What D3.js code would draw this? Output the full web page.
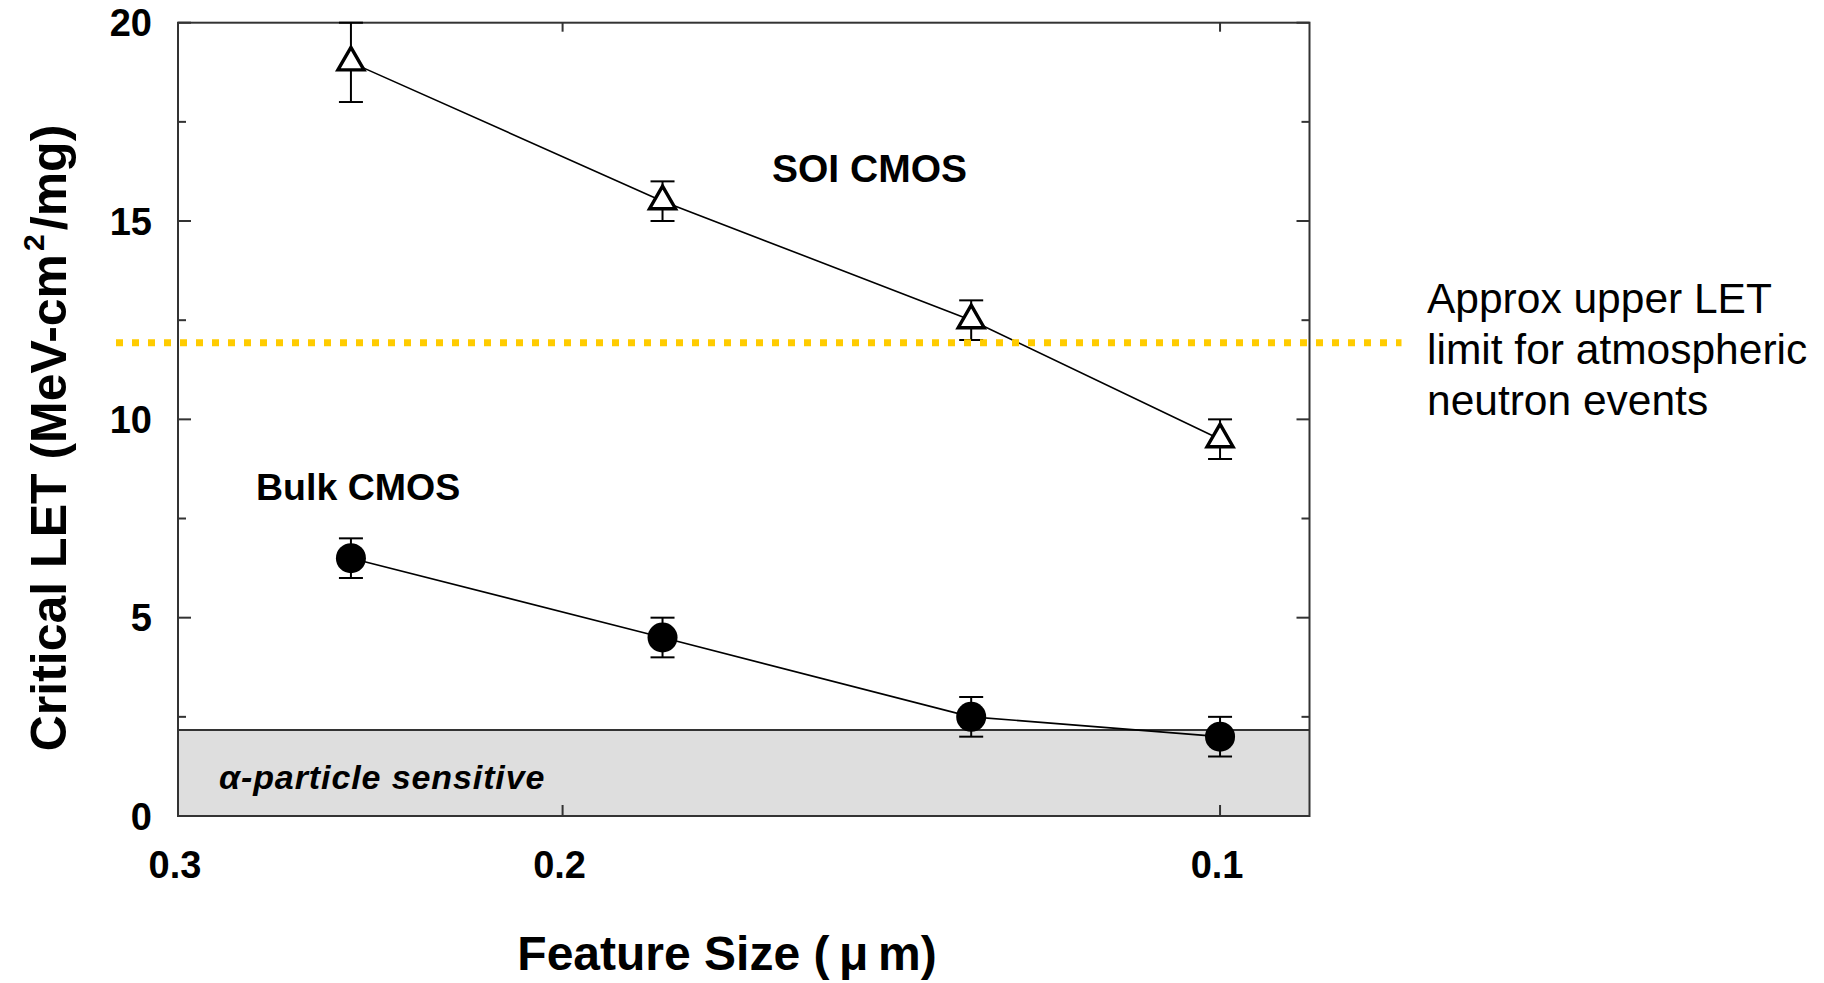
<!DOCTYPE html>
<html>
<head>
<meta charset="utf-8">
<script src="https://cdn.jsdelivr.net/npm/d3@7"></script>
<style>
  html, body { margin: 0; padding: 0; background: #fff; }
  svg { display: block; }
  text { font-family: "Liberation Sans", Arial, Helvetica, sans-serif; fill: #000; }
</style>
</head>
<body>
<svg id="chart" width="1824" height="983"></svg>
<script>
// Critical LET vs. feature size for SOI and bulk CMOS
const featureSize = [0.25, 0.18, 0.13, 0.10];

const soiLET     = [19, 15.5, 12.5, 9.5];
const soiErrLow  = [18, 15, 12, 9];
const soiErrHigh = [20, 16, 13, 10];

const bulkLET     = [6.5, 4.5, 2.5, 2.0];
const bulkErrLow  = [6.0, 4.0, 2.0, 1.5];
const bulkErrHigh = [7.0, 5.0, 3.0, 2.5];

const xTickValues = [0.3, 0.2, 0.1];
const xTickLabels = ["0.3", "0.2", "0.1"];
const yMajorTicks = [0, 5, 10, 15, 20];
const yMinorTicks = [2.5, 7.5, 12.5, 17.5];

const alphaLimit = 2.17;     // top of the alpha-particle sensitive band
const neutronLimit = 11.93;  // approx upper LET for atmospheric neutron events

const svg = d3.select("#chart");

const x = d3.scaleLog().domain([0.3, 0.091]).range([178, 1309.5]);
const y = d3.scaleLinear().domain([0, 20]).range([816, 22.7]);

const [x0, x1] = x.range();
const [y0, y1] = y.range();

// alpha-particle band
svg.append("rect")
  .attr("x", x0).attr("y", y(alphaLimit))
  .attr("width", x1 - x0).attr("height", y(0) - y(alphaLimit))
  .attr("fill", "#dedede");
svg.append("line")
  .attr("x1", x0).attr("x2", x1)
  .attr("y1", y(alphaLimit)).attr("y2", y(alphaLimit))
  .attr("stroke", "#333").attr("stroke-width", 2);

svg.append("text")
  .attr("x", 219).attr("y", y(0) - 27)
  .attr("font-size", 34).attr("font-weight", "bold").attr("font-style", "italic")
  .attr("letter-spacing", 0.9)
  .text("α-particle sensitive");

// frame
svg.append("rect")
  .attr("x", x0).attr("y", y1)
  .attr("width", x1 - x0).attr("height", y0 - y1)
  .attr("fill", "none").attr("stroke", "#333").attr("stroke-width", 2);

// y ticks (inward on both sides)
const tickG = svg.append("g").attr("stroke", "#333").attr("stroke-width", 2);
yMajorTicks.concat(yMinorTicks).forEach(v => {
  const len = yMajorTicks.includes(v) ? 13 : 8;
  tickG.append("line").attr("x1", x0).attr("x2", x0 + len).attr("y1", y(v)).attr("y2", y(v));
  tickG.append("line").attr("x1", x1).attr("x2", x1 - len).attr("y1", y(v)).attr("y2", y(v));
});
// x ticks (inward on top and bottom)
xTickValues.forEach(v => {
  tickG.append("line").attr("x1", x(v)).attr("x2", x(v)).attr("y1", y0).attr("y2", y0 - 11);
  tickG.append("line").attr("x1", x(v)).attr("x2", x(v)).attr("y1", y1).attr("y2", y1 + 9);
});

// tick labels
svg.append("g").selectAll("text").data(yMajorTicks).join("text")
  .attr("x", 152).attr("y", d => y(d)).attr("dy", "0.36em")
  .attr("text-anchor", "end").attr("font-size", 38).attr("font-weight", "bold")
  .text(d => d);
svg.append("g").selectAll("text").data(xTickValues).join("text")
  .attr("x", d => x(d) - 3).attr("y", 878)
  .attr("text-anchor", "middle").attr("font-size", 38).attr("font-weight", "bold")
  .text((d, i) => xTickLabels[i]);

// axis titles
svg.append("text")
  .attr("x", 727).attr("y", 970)
  .attr("text-anchor", "middle").attr("font-size", 48).attr("font-weight", "bold")
  .text("Feature Size (\u2009μ\u2009m)");

const yTitle = svg.append("text")
  .attr("transform", "translate(66,438) rotate(-90)")
  .attr("text-anchor", "middle").attr("font-size", 50).attr("font-weight", "bold");
yTitle.append("tspan").text("Critical LET (MeV-cm");
yTitle.append("tspan").attr("font-size", 30).attr("dy", -22).attr("dx", 3).text("2");
yTitle.append("tspan").attr("dy", 22).attr("dx", 4).text("/mg)");

// series
const seriesList = [
  { name: "SOI", values: soiLET, lo: soiErrLow, hi: soiErrHigh, symbol: d3.symbolTriangle, size: Math.sqrt(3) / 4 * 26 * 26, fill: "#fff", sw: 3.4 },
  { name: "Bulk", values: bulkLET, lo: bulkErrLow, hi: bulkErrHigh, symbol: d3.symbolCircle, size: Math.PI * 15 * 15, fill: "#000", sw: 0 }
];

const line = d3.line().x(d => x(d[0])).y(d => y(d[1]));

seriesList.forEach(s => {
  const pts = featureSize.map((f, i) => [f, s.values[i]]);
  svg.append("path").datum(pts)
    .attr("d", line).attr("fill", "none").attr("stroke", "#000").attr("stroke-width", 1.6);

  const eb = svg.append("g").attr("stroke", "#000").attr("stroke-width", 2);
  featureSize.forEach((f, i) => {
    const cx = x(f);
    eb.append("line").attr("x1", cx).attr("x2", cx).attr("y1", y(s.lo[i])).attr("y2", y(s.hi[i]));
    [s.lo[i], s.hi[i]].forEach(v => {
      eb.append("line").attr("x1", cx - 12).attr("x2", cx + 12).attr("y1", y(v)).attr("y2", y(v));
    });
  });

  svg.append("g").selectAll("path").data(pts).join("path")
    .attr("transform", d => `translate(${x(d[0])},${y(d[1])})`)
    .attr("d", d3.symbol(s.symbol, s.size))
    .attr("fill", s.fill)
    .attr("stroke", "#000").attr("stroke-width", s.sw)
    .attr("stroke-linejoin", "miter");
});

// series labels
svg.append("text").attr("x", 772).attr("y", 182)
  .attr("font-size", 39).attr("font-weight", "bold").text("SOI CMOS");
svg.append("text").attr("x", 256).attr("y", 500)
  .attr("font-size", 37.5).attr("font-weight", "bold").text("Bulk CMOS");

// neutron LET limit
svg.append("line")
  .attr("x1", x0 - 62).attr("x2", x1 + 92)
  .attr("y1", y(neutronLimit)).attr("y2", y(neutronLimit))
  .attr("stroke", "#ffcc00").attr("stroke-width", 7)
  .attr("stroke-dasharray", "7,9");

const note = svg.append("text").attr("font-size", 42.5);
["Approx upper LET", "limit for atmospheric", "neutron events"].forEach((t, i) => {
  note.append("tspan").attr("x", 1427).attr("y", 313 + i * 51).text(t);
});
</script>
</body>
</html>
